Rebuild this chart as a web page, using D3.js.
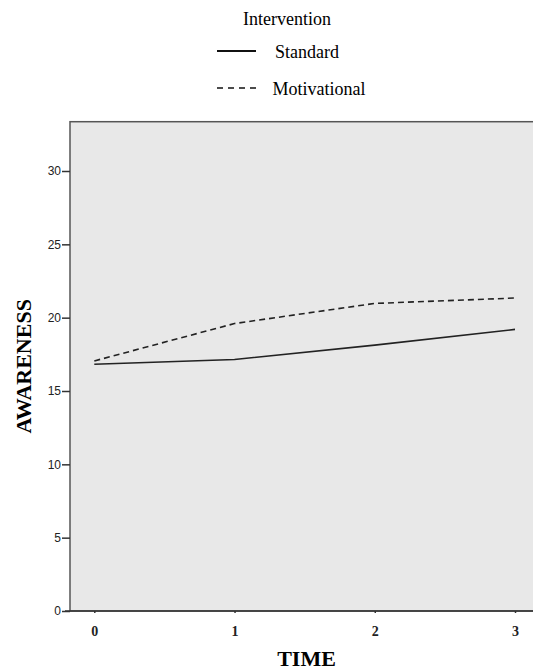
<!DOCTYPE html>
<html>

<head>
  <title>Awareness by time</title>
  <script src="https://cdn.jsdelivr.net/npm/d3@7"></script>
  <style type="text/css">
    body {
      margin: 0;
      background: #fff;
    }

    .serif {
      font-family: "Liberation Serif", "Times New Roman", serif;
    }
  </style>
</head>

<body>
  <div id="chartArea"></div>
  <script type="text/javascript">
    let times = [0, 1, 2, 3];
    let standard = [16.82, 17.15, 18.13, 19.2];
    let motivational = [17.05, 19.6, 20.97, 21.34];
    let yTicks = [0, 5, 10, 15, 20, 25, 30];

    let W = 533, H = 672;
    let plot = { left: 70, right: 543, top: 121.7, bottom: 611 };

    let svg = d3.select('#chartArea').append('svg')
      .attr('width', W)
      .attr('height', H);

    let xScale = d3.scaleLinear()
      .domain([0, 3])
      .range([94.3, 515]);

    let yScale = d3.scaleLinear()
      .domain([0, 30])
      .range([611, 171]);

    // plot background + frame
    svg.append('rect')
      .attr('x', plot.left)
      .attr('y', plot.top)
      .attr('width', plot.right - plot.left)
      .attr('height', plot.bottom - plot.top)
      .attr('fill', '#e8e8e8')
      .attr('stroke', '#555')
      .attr('stroke-width', 1.5);

    // y axis
    let yAxis = svg.append('g')
      .attr('transform', `translate(${plot.left},0)`)
      .call(d3.axisLeft(yScale).tickValues(yTicks).tickSize(8).tickPadding(1));
    yAxis.select('.domain').remove();
    yAxis.selectAll('line').attr('stroke', '#333').attr('stroke-width', 1.5);
    yAxis.selectAll('text')
      .attr('fill', '#222')
      .style('font-family', 'Arial, "Liberation Sans", sans-serif')
      .style('font-size', '12px');

    // x axis
    let xAxis = svg.append('g')
      .attr('transform', `translate(0,${plot.bottom})`)
      .call(d3.axisBottom(xScale).tickValues(times).tickFormat(d3.format('d')).tickSize(2).tickPadding(13));
    xAxis.select('.domain').remove();
    xAxis.selectAll('line').attr('stroke', '#333').attr('stroke-width', 1.5);
    xAxis.selectAll('text')
      .attr('class', 'serif')
      .attr('fill', '#222')
      .style('font-weight', 'bold')
      .style('font-size', '14px');

    // bottom axis line extends a bit left like the 0 tick
    svg.append('line')
      .attr('x1', plot.left - 5).attr('x2', plot.right)
      .attr('y1', plot.bottom).attr('y2', plot.bottom)
      .attr('stroke', '#333').attr('stroke-width', 1.5);

    let line = d3.line()
      .x((d, i) => xScale(times[i]))
      .y(d => yScale(d));

    svg.append('path')
      .datum(standard)
      .attr('d', line)
      .attr('fill', 'none')
      .attr('stroke', '#222')
      .attr('stroke-width', 1.6);

    svg.append('path')
      .datum(motivational)
      .attr('d', line)
      .attr('fill', 'none')
      .attr('stroke', '#222')
      .attr('stroke-width', 1.6)
      .attr('stroke-dasharray', '6,4');

    // axis titles
    svg.append('text')
      .attr('class', 'serif')
      .attr('x', (plot.left + plot.right) / 2)
      .attr('y', 666)
      .attr('text-anchor', 'middle')
      .style('font-weight', 'bold')
      .style('font-size', '22px')
      .text('TIME');

    svg.append('text')
      .attr('class', 'serif')
      .attr('transform', `translate(31,${(plot.top + plot.bottom) / 2}) rotate(-90)`)
      .attr('text-anchor', 'middle')
      .style('font-weight', 'bold')
      .style('font-size', '22px')
      .text('AWARENESS');

    // legend
    svg.append('text')
      .attr('class', 'serif')
      .attr('x', 287)
      .attr('y', 25)
      .attr('text-anchor', 'middle')
      .style('font-size', '18px')
      .text('Intervention');

    let legendItems = [
      { name: 'Standard', dash: null, y: 51, tx: 275 },
      { name: 'Motivational', dash: '6,5', y: 88, tx: 272.5 }
    ];

    legendItems.forEach(d => {
      svg.append('line')
        .attr('x1', 217).attr('x2', 256)
        .attr('y1', d.y).attr('y2', d.y)
        .attr('stroke', '#111')
        .attr('stroke-width', d.dash ? 1.5 : 2)
        .attr('stroke-dasharray', d.dash);
      svg.append('text')
        .attr('class', 'serif')
        .attr('x', d.tx)
        .attr('y', d.y + 7)
        .style('font-size', '18px')
        .text(d.name);
    });

  </script>
</body>

</html>
